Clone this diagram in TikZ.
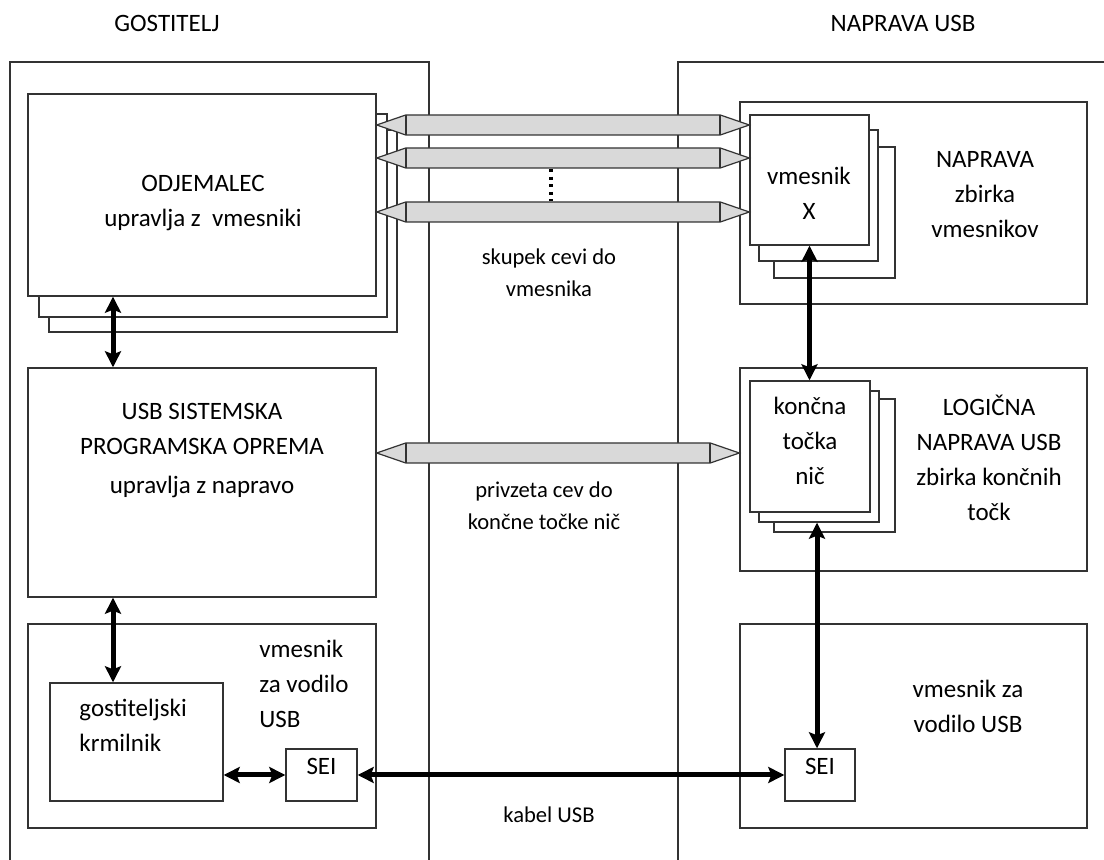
\documentclass[tikz,border=0pt]{standalone}
\usepackage{fontspec}
\setmainfont{Carlito}
\usetikzlibrary{positioning, arrows.meta, fit, calc}
\definecolor{cpipe}{HTML}{D9D9D9}
\definecolor{cline}{HTML}{333333}
\tikzset{
  frm/.style={draw=cline, line width=0.7pt},
  box/.style={draw=cline, line width=0.7pt, fill=white, inner sep=0pt},
  txt/.style={align=center, font=\fontsize{12.5}{17.5}\selectfont, inner sep=0pt},
  ltxt/.style={align=left, font=\fontsize{12.5}{17.5}\selectfont, inner sep=0pt},
  lbl/.style={align=center, font=\fontsize{11.3}{16}\selectfont, inner sep=0pt},
  pipe/.style={draw=cline, line width=0.6pt, fill=cpipe},
  pend/.style={draw=cline, line width=1pt},
  fl/.style={{Stealth[length=8pt,width=8pt,inset=1.5pt]}-{Stealth[length=8pt,width=8pt,inset=1.5pt]},
             line width=2.5pt},
}
% pipe between two tips on one line
\newcommand{\pipe}[2]{%
  \draw[pipe] (#1) -- ($(#1)+(29,-10)$) -- ($(#2)+(-29,-10)$) -- (#2)
    -- ($(#2)+(-29,10)$) -- ($(#1)+(29,10)$) -- cycle;
  \draw[pend] ($(#1)+(29,-10)$) -- ($(#1)+(29,10)$);
  \draw[pend] ($(#2)+(-29,-10)$) -- ($(#2)+(-29,10)$);
}

\begin{document}
\begin{tikzpicture}[x=0.5pt, y=-0.5pt]
  \useasboundingbox (0,0) rectangle (1104,860);
  % ---------- frames ----------
  \draw[frm] (10,860) |- (429,62) -- (429,860);
  \draw[frm] (678,860) |- (1120,62);
  \node[txt] (tg) at (167,23) {GOSTITELJ};
  \node[txt] (tn) at (903,23) {NAPRAVA USB};

  % ---------- host ----------
  \node[box, fit={(49,130) (397,332)}] (odj3) {};
  \node[box, fit={(39,114) (387,317)}] (odj2) {};
  \node[box, fit={(28,94) (376,296)}] (odj) {};
  \node[txt] (odjt) at (203,203) {ODJEMALEC\\upravlja z~ vmesniki};

  \node[box, fit={(28,368) (376,597)}] (sys) {};
  \node[txt] (syst) at (202,451) {USB SISTEMSKA\\PROGRAMSKA OPREMA\\[2pt]upravlja z napravo};

  \node[box, fit={(28,624) (376,828)}] (vod) {};
  \node[ltxt, anchor=west] (vodt) at (259,684) {vmesnik\\za vodilo\\USB};
  \node[box, fit={(50,683) (223,801)}] (hc) {};
  \node[ltxt, anchor=west] (hct) at (79,725) {gostiteljski\\krmilnik};
  \node[box, fit={(286,749) (357,801)}, txt] (sei1) {SEI};

  % ---------- device ----------
  \node[box, fit={(740,102) (1087,304)}] (dev) {};
  \node[txt] (devt) at (985,195) {NAPRAVA\\zbirka\\vmesnikov};
  \node[box, fit={(774,147) (895,278)}] (vx3) {};
  \node[box, fit={(759,130) (878,261)}] (vx2) {};
  \node[box, fit={(750,115) (869,245)}] (vx) {};
  \node[txt] (vxt) at (809,193) {vmesnik\\X};

  \node[box, fit={(740,368) (1087,571)}] (log) {};
  \node[txt] (logt) at (989,458) {LOGIČNA\\NAPRAVA USB\\zbirka končnih\\točk};
  \node[box, fit={(774,399) (895,532)}] (ep3) {};
  \node[box, fit={(759,391) (879,522)}] (ep2) {};
  \node[box, fit={(750,381) (870,512)}] (ep) {};
  \node[txt] (ept) at (810,441) {končna\\točka\\nič};

  \node[box, fit={(740,624) (1087,828)}] (vr) {};
  \node[txt] (vrt) at (968,706) {vmesnik za\\vodilo USB};
  \node[box, fit={(785,749) (855,801)}, txt] (sei2) {SEI};

  % ---------- pipes ----------
  \coordinate (p1) at (0,125);
  \coordinate (p2) at (0,158);
  \coordinate (p3) at (0,212);
  \coordinate (a1) at (odj.east |- p1); \coordinate (b1) at (vx.west |- p1);
  \coordinate (a2) at (odj.east |- p2); \coordinate (b2) at (vx.west |- p2);
  \coordinate (a3) at (odj.east |- p3); \coordinate (b3) at (vx.west |- p3);
  \coordinate (a4) at (sys.east |- 0,453); \coordinate (b4) at (log.west |- 0,453);
  \pipe{a1}{b1}
  \pipe{a2}{b2}
  \pipe{a3}{b3}
  \pipe{a4}{b4}
  \coordinate (d1) at (551,169);
  \coordinate (d2) at (551,201);
  \draw[line width=1.6pt, dash pattern=on 1.6pt off 2.2pt] (d1) -- (d2);
  \node[lbl] (pt1) at (549,273) {skupek cevi do\\vmesnika};
  \node[lbl] (pt2) at (544,506) {privzeta cev do\\končne točke nič};
  \node[lbl] (pt3) at (549,815) {kabel USB};

  % ---------- links ----------
  \coordinate (ax) at (113,0);
  \coordinate (bx) at (817,0);
  \draw[fl] (ax |- odj.south) -- (ax |- sys.north);
  \draw[fl] (ax |- sys.south) -- (ax |- hc.north);
  \draw[fl] (hc.east |- sei1.west) -- (sei1.west);
  \draw[fl] (sei1.east) -- (sei2.west);
  \draw[fl] (vx.south) -- (vx.south |- ep.north);
  \draw[fl] (bx |- ep2.south) -- (bx |- sei2.north);
\end{tikzpicture}
\end{document}
